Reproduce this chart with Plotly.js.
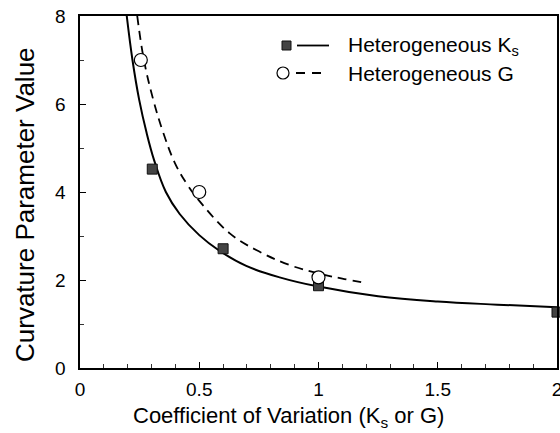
<!DOCTYPE html>
<html>
<head>
<meta charset="utf-8">
<script src="https://cdn.plot.ly/plotly-3.0.1.min.js"></script>
<style>html,body{margin:0;padding:0;background:#fff;}#chart{width:560px;height:433px;}</style>
</head>
<body>
<div id="chart"></div>
<script>
// Measured points
const ksX = [0.303, 0.6, 1.0, 2.0];
const ksY = [4.52, 2.71, 1.87, 1.27];
const gX = [0.255, 0.5, 1.0];
const gY = [7.0, 4.0, 2.06];

// Fitted curves
const ksCurveX = [0.196, 0.220, 0.248, 0.279, 0.311, 0.36, 0.418, 0.5, 0.586, 0.697, 0.837, 1.0, 1.25, 1.5, 1.75, 2.0];
const ksCurveY = [8.0, 7.0, 6.1, 5.35, 4.72, 4.0, 3.5, 3.02, 2.66, 2.32, 2.06, 1.85, 1.63, 1.51, 1.44, 1.38];
const gCurveX = [0.240, 0.268, 0.307, 0.349, 0.397, 0.446, 0.509, 0.628, 0.739, 0.879, 1.0, 1.1, 1.2];
const gCurveY = [8.0, 7.0, 6.1, 5.35, 4.67, 4.2, 3.74, 3.06, 2.68, 2.34, 2.15, 2.03, 1.93];

const legendLabels = ['Heterogeneous K<sub>s</sub>', 'Heterogeneous G'];
const xTitle = 'Coefficient of Variation (K<sub>s</sub> or G)';
const yTitle = 'Curvature Parameter Value';
const xTickVals = [0, 0.5, 1, 1.5, 2];
const xTickText = ['0', '0.5', '1', '1.5', '2'];
const yTickVals = [0, 2, 4, 6, 8];

const FONT = 'Liberation Sans, Arial, Helvetica, sans-serif';

const traces = [
  {x: ksCurveX, y: ksCurveY, mode: 'lines', line: {color: '#000', width: 2, shape: 'spline', smoothing: 1.1}, showlegend: false},
  {x: gCurveX, y: gCurveY, mode: 'lines', line: {color: '#000', width: 1.8, dash: '9px,6px', shape: 'spline', smoothing: 1.1}, showlegend: false},
  {x: ksX, y: ksY, mode: 'markers', marker: {symbol: 'square', size: 10, color: '#444', line: {color: '#111', width: 1}}, showlegend: false, cliponaxis: false},
  {x: gX, y: gY, mode: 'markers', marker: {symbol: 'circle', size: 13, color: '#fff', line: {color: '#000', width: 1.2}}, showlegend: false, cliponaxis: false}
];

// Pixel → paper helpers (plot area x 80..557, y 16..368)
const L = 80, R = 557, T = 16, B = 368;
const px = v => (v - L) / (R - L);
const py = v => (B - v) / (B - T);

const shapes = [
  {type: 'rect', xref: 'paper', yref: 'paper', x0: px(282), x1: px(291), y0: py(50), y1: py(41), fillcolor: '#444', line: {color: '#111', width: 1}},
  {type: 'line', xref: 'paper', yref: 'paper', x0: px(297), x1: px(329), y0: py(45.5), y1: py(45.5), line: {color: '#000', width: 1.8}},
  {type: 'circle', xref: 'paper', yref: 'paper', x0: px(277), x1: px(289), y0: py(79), y1: py(67), line: {color: '#000', width: 1.2}},
  {type: 'line', xref: 'paper', yref: 'paper', x0: px(296), x1: px(324), y0: py(73), y1: py(73), line: {color: '#000', width: 1.8, dash: '9px,7px'}}
];

const annotations = [
  {xref: 'paper', yref: 'paper', x: px(346), y: py(45.5), xanchor: 'left', yanchor: 'middle', text: legendLabels[0], showarrow: false, font: {family: FONT, size: 21, color: '#000'}},
  {xref: 'paper', yref: 'paper', x: px(346), y: py(73), xanchor: 'left', yanchor: 'middle', text: legendLabels[1], showarrow: false, font: {family: FONT, size: 21, color: '#000'}},
  {xref: 'paper', yref: 'paper', x: px(288), y: py(417), xanchor: 'center', yanchor: 'middle', text: xTitle, showarrow: false, font: {family: FONT, size: 22, color: '#000'}},
  {xref: 'paper', yref: 'paper', x: px(25), y: py(205), xanchor: 'center', yanchor: 'middle', textangle: -90, text: yTitle, showarrow: false, font: {family: FONT, size: 26, color: '#000'}}
];

const layout = {
  width: 560, height: 433,
  margin: {l: 80, r: 3, t: 16, b: 65},
  paper_bgcolor: '#fff', plot_bgcolor: '#fff',
  font: {family: FONT, color: '#000', size: 19},
  showlegend: false,
  xaxis: {
    range: [0, 2], tickvals: xTickVals, ticktext: xTickText,
    ticks: 'inside', ticklen: 6, tickwidth: 1, tickcolor: '#000',
    minor: {dtick: 0.1, ticks: 'inside', ticklen: 4, tickcolor: '#333', showgrid: false},
    showline: true, linecolor: '#000', linewidth: 1.6, mirror: true,
    showgrid: false, zeroline: false,
    ticklabeloverflow: 'allow', ticklabelstandoff: 4,
    tickfont: {family: FONT, size: 19}
  },
  yaxis: {
    range: [0, 8], tickvals: yTickVals,
    ticks: 'inside', ticklen: 6, tickwidth: 1, tickcolor: '#000',
    minor: {dtick: 1, ticks: 'inside', ticklen: 4, tickcolor: '#333', showgrid: false},
    showline: true, linecolor: '#000', linewidth: 1.6, mirror: true,
    showgrid: false, zeroline: false,
    ticklabelstandoff: 9,
    tickfont: {family: FONT, size: 19}
  },
  shapes: shapes,
  annotations: annotations
};

Plotly.newPlot('chart', traces, layout, {displayModeBar: false, staticPlot: true});
</script>
</body>
</html>
